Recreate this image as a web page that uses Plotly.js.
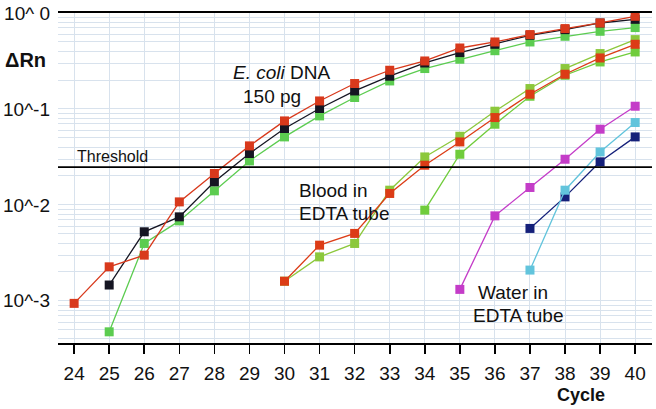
<!DOCTYPE html>
<html>
<head>
<meta charset="utf-8">
<script src="https://cdn.plot.ly/plotly-3.0.1.min.js"></script>
<style>html,body{margin:0;padding:0;background:#fff;}#chart{width:656px;height:409px;}</style>
</head>
<body>
<div id="chart"></div>
<script>
// ---- Data ----
const cycles = [24,25,26,27,28,29,30,31,32,33,34,35,36,37,38,39,40];

const ecoliRedX   = [24,25,26,27,28,29,30,31,32,33,34,35,36,37,38,39,40];
const ecoliRedY   = [0.00094,0.00226,0.00299,0.01074,0.02123,0.0412,0.0750,0.1211,0.1840,0.2530,0.3162,0.4317,0.4989,0.5957,0.6880,0.787,0.924];
const ecoliBlackX = [25,26,27,28,29,30,31,32,33,34,35,36,37,38,39,40];
const ecoliBlackY = [0.00146,0.00524,0.00750,0.01738,0.0343,0.0625,0.1010,0.1540,0.2193,0.3013,0.3868,0.472,0.586,0.671,0.787,0.859];
const ecoliGreenX = [25,26,27,28,29,30,31,32,33,34,35,36,37,38,39,40];
const ecoliGreenY = [0.000475,0.00396,0.00681,0.01400,0.0287,0.0511,0.0846,0.1315,0.1958,0.2636,0.3296,0.4046,0.4989,0.5719,0.6446,0.7047];

const bloodRedX    = [30,31,32,33,34,35,36,37,38,39,40];
const bloodRedY    = [0.00160,0.00380,0.00504,0.01315,0.0259,0.0453,0.0813,0.1423,0.2299,0.3398,0.472];
const bloodGreenAX = [30,31,32,33,34,35,36,37,38,39,40];
const bloodGreenAY = [0.00160,0.00287,0.00396,0.01422,0.0316,0.0519,0.0947,0.1631,0.2636,0.3777,0.528];
const bloodGreenBX = [34,35,36,37,38,39,40];
const bloodGreenBY = [0.00881,0.0337,0.0693,0.1356,0.2244,0.3089,0.3926];

const waterMagX = [35,36,37,38,39,40];
const waterMagY = [0.001315,0.00768,0.01518,0.0299,0.0615,0.1067];
const waterCyanX = [37,38,39,40];
const waterCyanY = [0.00209,0.01422,0.0356,0.0722];
const waterNavyX = [37,38,39,40];
const waterNavyY = [0.00568,0.01211,0.0281,0.0511];

const threshold = 0.0247;
const decadeLabels = {"0":"10^ 0","-1":"10^-1","-2":"10^-2","-3":"10^-3"};

// ---- Build ----
const FONT = "Liberation Sans, Arial, Helvetica, sans-serif";
function series(x, y, color) {
  return {x:x, y:y, type:'scatter', mode:'lines+markers',
    line:{color:color, width:1.3},
    marker:{symbol:'square', size:9, color:color},
    hoverinfo:'skip', showlegend:false};
}
const traces = [
  series(waterNavyX, waterNavyY, '#15207a'),
  series(waterCyanX, waterCyanY, '#62c4dc'),
  series(waterMagX, waterMagY, '#c43cc8'),
  series(bloodGreenBX, bloodGreenBY, '#70cc3c'),
  series(bloodGreenAX, bloodGreenAY, '#8cc83c'),
  series(bloodRedX, bloodRedY, '#dc3c16'),
  series(ecoliGreenX, ecoliGreenY, '#5ccc50'),
  series(ecoliBlackX, ecoliBlackY, '#151522'),
  series(ecoliRedX, ecoliRedY, '#d8391c')
];

const yTickVals = [], yTickText = [];
for (let k = -4; k <= 0; k++) {
  for (let m = 1; m <= 9; m++) {
    const v = m * Math.pow(10, k);
    if (v < 0.00036 || v > 1.0001) continue;
    yTickVals.push(v);
    yTickText.push(m === 1 ? decadeLabels[String(k)] : '');
  }
}

// plot area in pixels: x 58..652, y 13..343
const L = 58, R = 652, T = 13, B = 343;
const px = v => (v - L) / (R - L);
const py = v => (B - v) / (B - T);

function txt(text, x, y, opts) {
  return Object.assign({text:text, xref:'paper', yref:'paper', x:px(x), y:py(y),
    showarrow:false, xanchor:'left', yanchor:'middle',
    font:{family:FONT, size:19, color:'#111'}}, opts || {});
}

const layout = {
  width:656, height:409,
  margin:{l:L, r:656-R, t:T, b:409-B},
  paper_bgcolor:'#fff', plot_bgcolor:'#fff',
  font:{family:FONT, color:'#111'},
  xaxis:{
    range:[23.54, 40.48], tickmode:'array', tickvals:cycles,
    ticktext:cycles.map(String),
    showgrid:true, gridcolor:'#d8e2ed', gridwidth:1,
    zeroline:false, showline:true, linecolor:'#000', linewidth:2, mirror:true,
    ticks:'outside', ticklen:9, tickwidth:1.6, tickcolor:'#000',
    ticklabelstandoff:3,
    tickfont:{family:FONT, size:19, color:'#111'}
  },
  yaxis:{
    type:'log', range:[-3.44, 0],
    tickmode:'array', tickvals:yTickVals, ticktext:yTickText,
    showgrid:true, gridcolor:'#d8e2ed', gridwidth:1,
    zeroline:false, showline:false, ticks:'',
    ticklabelstandoff:7,
    tickfont:{family:FONT, size:19, color:'#111'}
  },
  shapes:[{type:'line', xref:'paper', x0:0, x1:1, yref:'y', y0:threshold, y1:threshold,
    line:{color:'#000', width:1.8}}],
  annotations:[
    txt('<b>ΔRn</b>', 3, 60, {font:{family:FONT, size:20, color:'#111'}}),
    txt('Threshold', 75, 156, {font:{family:FONT, size:16, color:'#111'}}),
    txt('<i>E. coli</i> DNA', 231, 72),
    txt('150 pg', 241, 97),
    txt('Blood in', 297, 190),
    txt('EDTA tube', 297, 213),
    txt('Water in', 476, 292),
    txt('EDTA tube', 471, 315),
    txt('<b>Cycle</b>', 555, 395, {font:{family:FONT, size:18, color:'#111'}})
  ]
};

Plotly.newPlot('chart', traces, layout, {displayModeBar:false, staticPlot:true});
</script>
</body>
</html>
